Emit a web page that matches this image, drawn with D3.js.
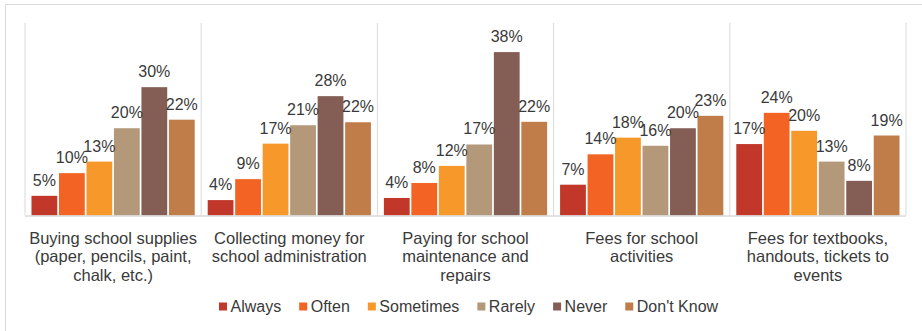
<!DOCTYPE html>
<html>
<head>
<meta charset="utf-8">
<script src="https://cdn.jsdelivr.net/npm/d3@7"></script>
<style>
  html, body { margin: 0; padding: 0; background: #fff; }
  svg { display: block; font-family: Arial, "Liberation Sans", sans-serif; }
</style>
</head>
<body>
<svg id="chart" width="922" height="331"></svg>
<script>
const categories = [
  ["Buying school supplies", "(paper, pencils, paint,", "chalk, etc.)"],
  ["Collecting money for", "school administration"],
  ["Paying for school", "maintenance and", "repairs"],
  ["Fees for school", "activities"],
  ["Fees for textbooks,", "handouts, tickets to", "events"]
];
const seriesNames = ["Always", "Often", "Sometimes", "Rarely", "Never", "Don't Know"];
const seriesColors = ["#C1372A", "#F26324", "#F7982B", "#B39879", "#845E55", "#C07D4A"];
const always    = [4.6, 3.6, 4.1, 7.2, 16.7];
const often     = [9.9, 8.5, 7.6, 14.3, 24.0];
const sometimes = [12.6, 16.8, 11.6, 18.2, 19.8];
const rarely    = [20.4, 21.1, 16.6, 16.3, 12.6];
const never     = [30.0, 27.9, 38.2, 20.4, 8.1];
const dontKnow  = [22.4, 21.8, 21.9, 23.3, 18.7];
const seriesValues = [always, often, sometimes, rarely, never, dontKnow];

(function () {
const svg = d3.select("#chart");
const textColor = "#3a3a3a";

// outer frame
svg.append("line").attr("x1", 5.5).attr("x2", 5.5).attr("y1", 4.5).attr("y2", 331)
  .attr("stroke", "#d9d9d9").attr("stroke-width", 1);
svg.append("line").attr("x1", 5.5).attr("x2", 922).attr("y1", 4.5).attr("y2", 4.5)
  .attr("stroke", "#d9d9d9").attr("stroke-width", 1);

const pLeft = 25, pRight = 906, pTop = 23, pBottom = 215.5;
const x0 = d3.scaleBand().domain(d3.range(categories.length)).range([pLeft, pRight]).paddingInner(0).paddingOuter(0);
const x1 = d3.scaleBand().domain(d3.range(seriesNames.length)).range([0, x0.bandwidth()]).paddingInner(0.062).paddingOuter(0.236);
const y = d3.scaleLinear().domain([0, 45]).range([pBottom, pTop]);

// vertical category dividers
const divs = d3.range(categories.length + 1).map(i => pLeft + i * x0.bandwidth());
svg.append("g").selectAll("line").data(divs).join("line")
  .attr("x1", d => d).attr("x2", d => d)
  .attr("y1", pTop).attr("y2", pBottom)
  .attr("stroke", "#d9d9d9").attr("stroke-width", 1);

// bars
const groups = svg.append("g").selectAll("g").data(categories).join("g")
  .attr("transform", (d, i) => `translate(${x0(i)},0)`);

groups.each(function(c, ci) {
  const g = d3.select(this);
  const data = seriesValues.map((arr, si) => ({ si, v: arr[ci] }));
  g.selectAll("rect").data(data).join("rect")
    .attr("x", d => x1(d.si))
    .attr("width", x1.bandwidth())
    .attr("y", d => y(d.v))
    .attr("height", d => pBottom - y(d.v))
    .attr("fill", d => seriesColors[d.si]);
  g.selectAll("text").data(data).join("text")
    .attr("x", d => x1(d.si) + x1.bandwidth() / 2)
    .attr("y", d => y(d.v) - 10)
    .attr("text-anchor", "middle")
    .attr("font-size", 16)
    .attr("fill", textColor)
    .text(d => Math.round(d.v) + "%");
});

// baseline
svg.append("line").attr("x1", pLeft).attr("x2", pRight).attr("y1", pBottom + 0.5).attr("y2", pBottom + 0.5)
  .attr("stroke", "#d9d9d9").attr("stroke-width", 1.5);

// category labels
const labels = svg.append("g").selectAll("text").data(categories).join("text")
  .attr("text-anchor", "middle")
  .attr("font-size", 16.5)
  .attr("fill", textColor)
  .attr("transform", (d, i) => `translate(${x0(i) + x0.bandwidth() / 2},243.5)`);
labels.selectAll("tspan").data(d => d).join("tspan")
  .attr("x", 0).attr("dy", (d, i) => i === 0 ? 0 : 18.7)
  .text(d => d);

// legend
const legend = svg.append("g");
let lx = 219;
seriesNames.forEach((name, i) => {
  legend.append("rect").attr("x", lx).attr("y", 302.5).attr("width", 8).attr("height", 8)
    .attr("fill", seriesColors[i]);
  const t = legend.append("text").attr("x", lx + 11.5).attr("y", 311.5)
    .attr("font-size", 16).attr("fill", textColor).text(name);
  lx += 11.5 + t.node().getComputedTextLength() + 18;
});
})();
</script>
</body>
</html>
